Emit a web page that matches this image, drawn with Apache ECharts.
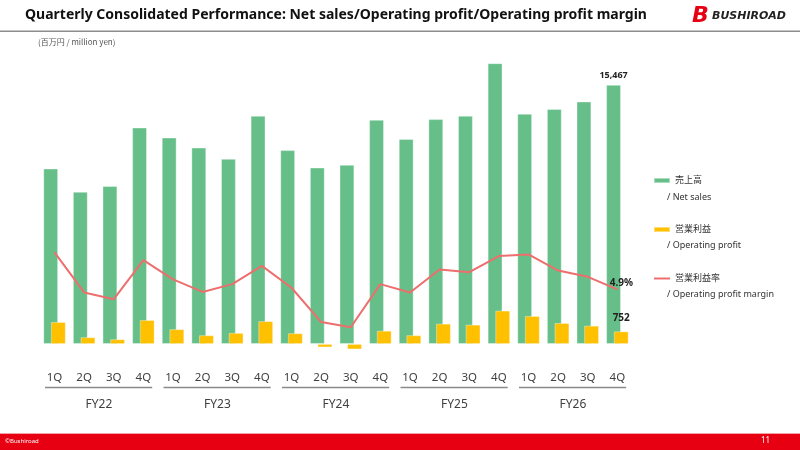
<!DOCTYPE html>
<html><head><meta charset="utf-8">
<script src="https://cdn.jsdelivr.net/npm/echarts@6/dist/echarts.min.js"></script>
<style>html,body{margin:0;padding:0;background:#fff}#c{width:800px;height:450px}</style>
</head><body><div id="c"></div>
<script>
const quarters = ['1Q','2Q','3Q','4Q','1Q','2Q','3Q','4Q','1Q','2Q','3Q','4Q','1Q','2Q','3Q','4Q','1Q','2Q','3Q','4Q'];
const fiscalYears = ['FY22','FY23','FY24','FY25','FY26'];
const netSales = [10470,9080,9430,12920,12320,11720,11050,13620,11570,10530,10690,13380,12240,13420,13620,16760,13740,14030,14470,15467];
const operatingProfit = [1310,400,280,1430,880,520,660,1360,640,-200,-320,790,520,1210,1150,1990,1670,1250,1090,752];
const opMargin = [12.0,4.3,3.0,10.5,6.8,4.4,5.9,9.4,5.2,-1.4,-2.4,5.9,4.3,8.7,8.2,11.3,11.6,8.5,7.3,4.9];
const legendJa = ['売上高','営業利益','営業利益率'];
const legendEn = ['/ Net sales','/ Operating profit','/ Operating profit margin'];

const FONT = '"Noto Sans", "Noto Sans CJK JP", sans-serif';
const chart = echarts.init(document.getElementById('c'));
const last = netSales.length - 1;

const salesData = netSales.map((v,i)=> i===last ? {value:v,label:{show:true,position:'top',distance:5,formatter:p=>p.value.toLocaleString('en-US'),fontSize:9,fontWeight:'bold',color:'#222',fontFamily:FONT}} : v);
const opData = operatingProfit.map((v,i)=> i===last ? {value:v,label:{show:true,position:'top',distance:8,formatter:p=>String(p.value),fontSize:10,fontWeight:'bold',color:'#222',fontFamily:FONT}} : v);

const option = {
  animation:false,
  textStyle:{fontFamily:FONT},
  grid:{left:39.7,right:167.8,top:42.5,bottom:89.25},
  legend:{
    orient:'vertical',left:648,top:171,itemWidth:16,itemHeight:5,itemGap:40,
    textStyle:{fontSize:9,color:'#333',fontFamily:FONT},
    data:[{name:legendJa[0],icon:'rect'},{name:legendJa[1],icon:'rect'},{name:legendJa[2],itemStyle:{opacity:0}}]
  },
  xAxis:[
    {type:'category',data:quarters,axisLine:{show:false},axisTick:{show:false},
     axisLabel:{margin:11,fontSize:11.5,color:'#404040',fontFamily:FONT,interval:0}},
    {type:'category',data:fiscalYears,position:'bottom',axisLine:{show:false},axisTick:{show:false},
     axisLabel:{margin:38,fontSize:12,color:'#404040',fontFamily:FONT}}
  ],
  yAxis:[
    {type:'value',min:-1000,max:18000,show:false,splitLine:{show:false}},
    {type:'value',min:-8.84,max:52.37,show:false,splitLine:{show:false}}
  ],
  series:[
    {name:legendJa[0],type:'bar',data:salesData,barWidth:14.7,barGap:'-48%',
     itemStyle:{color:'#66BF88',borderColor:'rgba(255,255,255,0.45)',borderWidth:0.8}},
    {name:legendJa[1],type:'bar',data:opData,barWidth:14.7,barGap:'-48%',
     itemStyle:{color:'#FFC000',borderColor:'rgba(255,255,255,0.45)',borderWidth:0.8}},
    {name:legendJa[2],type:'line',yAxisIndex:1,data:opMargin,symbol:'none',
     lineStyle:{color:'#EE6E6E',width:2},itemStyle:{color:'#F08A8A'},z:5,
     endLabel:{show:true,formatter:p=>Number(p.value).toFixed(1)+'%',fontSize:10,fontWeight:'bold',color:'#222',fontFamily:FONT,
       align:'center',verticalAlign:'middle',distance:0,offset:[4,-6]}}
  ]
};
chart.setOption(option);

const g = [];
g.push({type:'text',left:25,top:8,style:{text:'Quarterly Consolidated Performance: Net sales/Operating profit/Operating profit margin',font:'bold 14px "Noto Sans", sans-serif',fill:'#111'}});
g.push({type:'rect',shape:{x:0,y:30.5,width:800,height:1.5},style:{fill:'#8c8c8c'}});
g.push({type:'text',left:38,top:38,style:{text:'(百万円 / million yen)',font:'8px "Noto Sans CJK JP", sans-serif',fill:'#555'}});
g.push({type:'text',left:692,top:5,style:{text:'B',font:'italic bold 22px "DejaVu Sans", sans-serif',fill:'#E60012'}});
g.push({type:'text',left:712,top:11,style:{text:'BUSHIROAD',font:'italic bold 11px "DejaVu Sans", sans-serif',fill:'#222'}});
g.push({type:'rect',shape:{x:0,y:433,width:800,height:1},style:{fill:'#F3A0A6'}});
g.push({type:'rect',shape:{x:0,y:434,width:800,height:16},style:{fill:'#E60012'}});
g.push({type:'text',left:5,top:438,style:{text:'©Bushiroad',font:'6px "Noto Sans", sans-serif',fill:'#fff'}});
g.push({type:'text',left:761,top:437,style:{text:'11',font:'8px "Noto Sans", sans-serif',fill:'#fff'}});
const enY = [192.5, 241, 289.5];
legendEn.forEach((t,i)=>g.push({type:'text',left:667,top:enY[i],style:{text:t,font:'9px "Noto Sans", sans-serif',fill:'#333'}}));
const yLine = 387.5;
fiscalYears.forEach((fy,k)=>{
  const x0 = chart.convertToPixel({xAxisIndex:0},4*k) - 9.5;
  const x1 = chart.convertToPixel({xAxisIndex:0},4*k+3) + 8.8;
  g.push({type:'rect',shape:{x:x0,y:yLine-0.8,width:x1-x0,height:1.6},style:{fill:'#8a8a8a'}});
});
chart.setOption({graphic:g});
</script></body></html>
